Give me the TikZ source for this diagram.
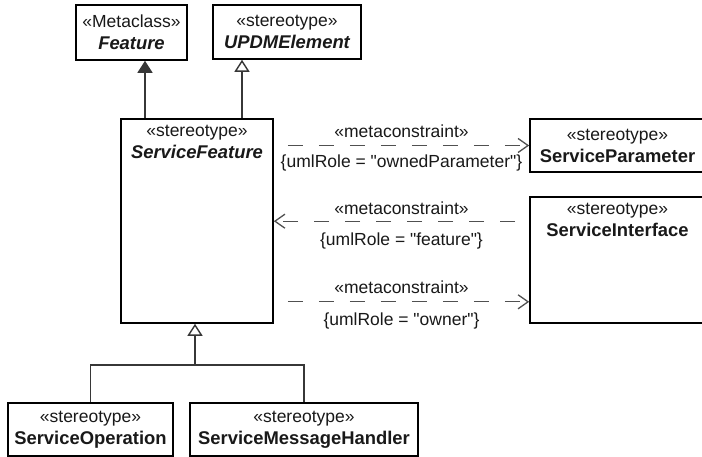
\documentclass[tikz,border=0pt]{standalone}
\usepackage{fontspec}
\setmainfont{Liberation Sans}[Ligatures=TeXOff]
\usepackage{tikz}
\usetikzlibrary{positioning,calc}
\usetikzlibrary{arrows.meta}
\definecolor{UmlLine}{RGB}{55,55,55}
\definecolor{UmlDash}{RGB}{80,80,80}
\definecolor{UmlText}{RGB}{25,25,25}
\newcommand{\stereo}[1]{{\fontsize{17.5}{22}\selectfont «#1»}}
\newcommand{\umlname}[1]{{\fontsize{18.4}{22}\selectfont\bfseries #1}}

\begin{document}
\begin{tikzpicture}[x=1pt,y=-1pt,
	umlbox/.style={draw=black,line width=1.6pt,fill=white,align=center,inner sep=0pt,
		text=UmlText,font=\fontsize{17.5}{22}\selectfont},
	toptext/.style={anchor=north,align=center,inner sep=7pt,text=UmlText,
		font=\fontsize{17.5}{22}\selectfont},
	umlline/.style={draw=UmlLine,line width=1.4pt},
	gen/.style={umlline,-{Triangle[open,length=12pt,width=15pt,fill=white]}},
	genfill/.style={umlline,-{Triangle[length=12pt,width=15pt]}},
	meta/.style={draw=UmlDash,line width=1.3pt,dash pattern=on 15pt off 16pt,dash phase=17pt,
		-{Straight Barb[length=10pt,width=14pt]}},
	tag/.style={inner sep=0pt,text=UmlText,font=\fontsize{17.5}{20}\selectfont}]
	
	\useasboundingbox[fill=white] (0,0) rectangle (702,457);
	
	\node[umlbox,minimum width=111,minimum height=55] (feat) at (131.5,32.5)
		{\stereo{Metaclass}\\\umlname{\itshape Feature}};
	\node[umlbox,minimum width=148,minimum height=54] (upd) at (287,32)
		{\stereo{stereotype}\\\umlname{\itshape UPDMElement}};
	\node[umlbox,minimum width=152,minimum height=204,
		label={[toptext]north:\stereo{stereotype}\\\umlname{\itshape ServiceFeature}}] (sf) at (197,221) {};
	\node[umlbox,minimum width=175,minimum height=53] (sp) at (617.5,145.5)
		{\stereo{stereotype}\\\umlname{ServiceParameter}};
	\node[umlbox,minimum width=175,minimum height=126,
		label={[toptext]north:\stereo{stereotype}\\\umlname{ServiceInterface}}] (si) at (617.5,260) {};
	\node[umlbox,minimum width=165,minimum height=53] (sop) at (90.5,429.5)
		{\stereo{stereotype}\\\umlname{ServiceOperation}};
	\node[umlbox,minimum width=228,minimum height=53] (smh) at (304,429.5)
		{\stereo{stereotype}\\\umlname{ServiceMessageHandler}};
	
	\draw[genfill] ([xshift=-52]sf.north) -- ([xshift=-52]sf.north |- feat.south);
	\draw[gen] ([xshift=45]sf.north) -- ([xshift=45]sf.north |- upd.south);
	
	\coordinate (fork) at (195,365);
	\draw[umlline] (sop.north) |- (fork) -| (smh.north);
	\draw[gen] (fork) -- (fork |- sf.south);
	
	\draw[meta] (sp.west -| sf.east) -- (sp.west)
		node[tag,midway,above=7pt] {«metaconstraint»}
		node[tag,midway,below=9pt] {\{umlRole = "ownedParameter"\}};
	\draw[meta] ([yshift=-25]si.north west) -- ([yshift=-25]si.north west -| sf.east)
		node[tag,midway,above=6pt] {«metaconstraint»}
		node[tag,midway,below=11pt] {\{umlRole = "feature"\}};
	\draw[meta] ([yshift=22]si.south west -| sf.east) -- ([yshift=22]si.south west)
		node[tag,midway,above=7pt] {«metaconstraint»}
		node[tag,midway,below=10pt] {\{umlRole = "owner"\}};
\end{tikzpicture}
\end{document}
